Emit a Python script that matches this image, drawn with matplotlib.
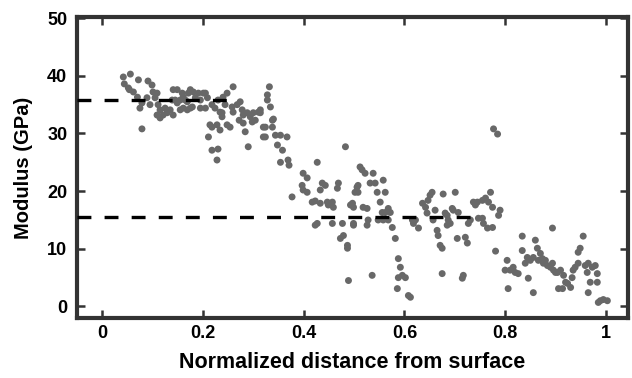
import matplotlib
matplotlib.use("Agg")
import matplotlib.pyplot as plt

# Normalized distance from surface (x) and modulus in GPa (y)
x_a = [.042,.056,.044,.072,.091,.052,.062,.099,.101,.070,.089,.105,.079,.075,.095,.111,.115,.125,.109,.115,.129,.079,.141,.149,.139,.149,.135,.155,.121,.141,.145,.054,.109]
y_a = [39.8,40.3,38.6,39.3,39.1,37.9,37.2,38.4,37.2,36.3,36.2,36.2,35.3,34.4,35.0,35.0,34.1,34.4,33.2,32.7,33.6,30.8,37.6,37.6,35.8,35.3,34.1,35.8,33.2,33.2,35.8,37.6,37.0]

x_b = [.161,.169,.171,.181,.191,.185,.195,.179,.161,.155,.169,.201,.209,.205,.218,.224,.234,.240,.248,.238,.228,.218,.211,.234,.218,.230,.228,.248,.260,.244,.238,.260,.268,.274,.272,.280,.288,.294,.300,.310,.304,.298,.280,.284,.254,.290,.214,.159,.175,.205,.165,.175,.195,.230,.258,.278,.314,.320]
y_b = [36.3,35.5,37.0,37.2,37.0,36.2,35.8,34.6,34.4,34.1,34.1,37.0,36.2,34.4,35.0,34.4,33.7,36.3,37.0,32.9,31.5,31.1,29.4,30.6,27.1,27.3,25.4,31.5,38.1,35.0,33.6,33.7,35.0,35.5,32.3,33.2,33.6,32.9,33.6,33.7,32.3,32.0,31.8,30.3,31.1,27.7,31.5,37.0,37.6,37.0,35.8,34.4,34.4,35.8,34.6,34.1,33.6,31.1]

x_c = [.332,.328,.328,.334,.338,.338,.324,.320,.344,.354,.367,.348,.358,.354,.369,.371,.340,.314,.324]
y_c = [38.1,36.7,35.8,34.6,32.3,31.1,31.1,29.4,29.7,29.7,29.4,28.0,27.1,25.0,25.4,24.5,32.5,34.1,29.4]

x_d = [.377,.399,.407,.397,.399,.407,.437,.443,.433,.469,.467,.417,.423,.433,.447,.457,.449,.459,.427,.427,.423,.457,.477,.483,.479,.473,.497]
y_d = [19.0,23.1,22.3,21.0,20.2,19.8,21.4,21.0,20.2,21.4,20.5,18.1,18.3,17.9,18.1,18.1,17.6,17.2,25.0,14.4,14.1,14.4,14.4,27.7,12.3,11.8,17.9]

x_e = [.487,.487,.489,.499,.506,.508,.502,.512,.516,.522,.508,.518,.526,.528,.526,.532,.538,.542,.546,.558,.562,.552,.556,.548,.558,.568,.572,.568,.576,.536,.582,.588,.592,.596,.602,.588,.586,.608,.612,.616,.628,.618,.636,.642,.647,.651,.655,.645,.657,.665,.667,.671,.675,.675,.677,.681,.687,.685,.493,.499,.499,.562,.622,.661]
y_e = [10.6,10.1,4.5,14.4,20.7,19.8,19.8,24.2,23.7,23.1,21.0,17.2,17.0,15.0,14.1,21.4,23.1,21.4,19.8,21.9,19.8,18.1,16.3,15.0,15.0,17.0,16.3,15.0,13.7,5.4,11.8,8.3,6.8,5.4,5.0,5.0,3.1,1.9,1.6,15.0,13.6,14.4,17.9,17.2,18.4,19.3,19.8,16.2,15.0,13.2,12.3,10.6,10.1,5.7,19.5,16.2,15.0,14.1,17.6,17.2,14.1,16.3,15.0,16.7]

x_f = [.701,.697,.707,.705,.715,.717,.725,.727,.737,.745,.777,.785,.771,.761,.755,.741,.767,.775,.790,.787,.731,.755,.757,.765,.775,.721,.781,.685,.691,.695,.747,.804,.800,.810,.806]
y_f = [19.8,16.7,16.3,11.8,4.9,5.4,11.0,14.4,18.1,18.1,30.8,29.9,19.8,18.8,18.4,17.6,18.1,17.2,16.7,15.8,15.0,15.3,14.4,13.6,13.7,12.0,9.6,15.8,14.4,17.0,15.3,8.0,6.3,6.3,3.1]

x_g = [.820,.826,.834,.834,.840,.844,.850,.846,.856,.860,.864,.870,.874,.866,.876,.880,.884,.890,.894,.896,.904,.910,.916,.920,.906,.914,.924,.930,.933,.935,.939,.945,.945,.949,.955,.959,.963,.965,.969,.965,.973,.979,.983,.983,.989,.995,1.003,.985,.856,.894,.816,.900]
y_g = [5.9,5.7,12.2,9.7,7.5,8.5,8.0,4.9,2.4,11.5,10.1,9.2,8.3,8.0,7.5,8.0,7.1,6.8,13.6,6.3,5.9,6.3,5.4,4.2,3.1,3.1,4.0,3.3,5.0,6.3,6.8,7.5,9.4,10.1,12.2,7.1,5.9,7.5,4.2,2.4,6.8,7.1,5.7,4.2,1.0,1.2,1.0,0.7,8.5,7.5,6.8,5.9]

x_vals = x_a + x_b + x_c + x_d + x_e + x_f + x_g
y_vals = y_a + y_b + y_c + y_d + y_e + y_f + y_g

# Mean levels (dashed lines)
upper_level = 35.8
upper_range = (-0.05, 0.25)
lower_level = 15.5
lower_range = (-0.05, 0.737)

x_ticks = [0, 0.2, 0.4, 0.6, 0.8, 1]
x_ticklabels = ["0", "0.2", "0.4", "0.6", "0.8", "1"]
y_ticks = [0, 10, 20, 30, 40, 50]

plt.rcParams['font.family'] = ['Liberation Sans', 'DejaVu Sans']
plt.rcParams['lines.scale_dashes'] = False

fig = plt.figure(figsize=(6.32, 3.78), dpi=100)
ax = fig.add_axes([0.1218, 0.1587, 0.8719, 0.7963])

ax.scatter(x_vals, y_vals, s=25, color='#686868', edgecolors='none', zorder=2)
ax.plot(upper_range, [upper_level, upper_level], color='black', lw=2.4,
        dashes=(10, 9.5), zorder=3, dash_capstyle='butt')
ax.plot(lower_range, [lower_level, lower_level], color='black', lw=2.4,
        dashes=(10, 9.5), zorder=3, dash_capstyle='butt')

ax.set_xlim(-0.05, 1.044)
ax.set_ylim(-2, 50.2)
ax.set_xticks(x_ticks)
ax.set_xticklabels(x_ticklabels)
ax.set_yticks(y_ticks)

for sp in ax.spines.values():
    sp.set_linewidth(3.0)
    sp.set_color('#333333')

ax.tick_params(axis='both', direction='in', length=5.5, width=1.8, color='#333333',
               top=True, right=True, labelsize=13)
ax.tick_params(axis='x', pad=5)
ax.tick_params(axis='y', pad=7)
for lab in ax.get_xticklabels() + ax.get_yticklabels():
    lab.set_fontweight('bold')

ax.set_xlabel('Normalized distance from surface', fontsize=15.5, fontweight='bold', labelpad=7)
ax.set_ylabel('Modulus (GPa)', fontsize=14.5, fontweight='bold', labelpad=10)

fig.savefig('out.png', dpi=100)
